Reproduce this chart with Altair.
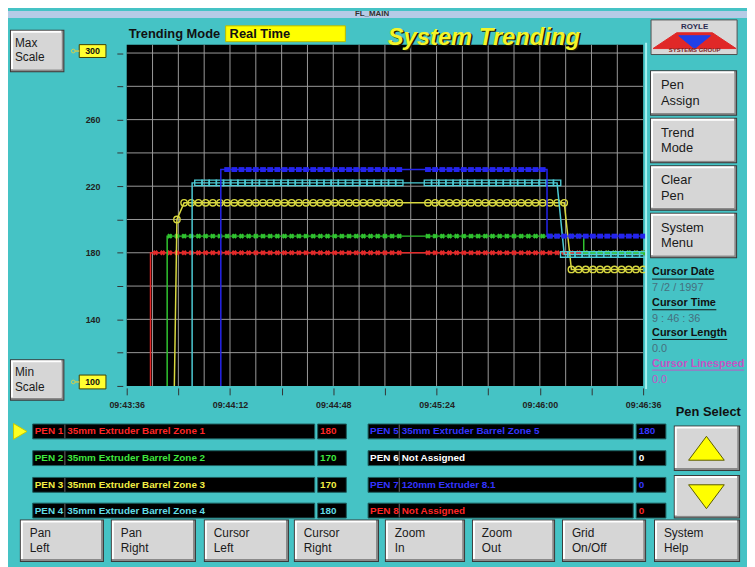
import altair as alt
import pandas as pd

FONT = "Liberation Sans"
W, H = 747, 559          # whole chart (page margin of 8px around it)

# ---------------------------------------------------------------- chart data
x_tick_labels = ["09:43:36", "09:44:12", "09:44:48", "09:45:24", "09:46:00", "09:46:36"]
x_tick_values = [0, 18, 36, 54, 72, 90, 108, 126, 144, 162, 180]      # seconds after 09:43:36
y_tick_values = [100, 120, 140, 160, 180, 200, 220, 240, 260, 280, 300]
y_label_values = [140, 180, 220, 260]
grid_t = [9, 18, 27, 36, 45, 54, 63, 72, 81, 90, 99, 108, 117, 126, 135, 144, 153, 162, 171]
grid_v = [120, 140, 160, 180, 200, 220, 240, 260, 280, 300]
scale_max_label = "300"
scale_min_label = "100"

trend_colors = ["#e42a2a", "#30c430", "#d8d840", "#4ccad4", "#2424ee"]

# trace vertices (time s, value)
line1_t = [8.3, 8.3, 180]
line1_v = [100, 180, 180]
line2_t = [14.1, 14.1, 159.3, 159.3, 180]
line2_v = [100, 190, 190, 180, 180]
line3_t = [16.6, 17.5, 20, 152.5, 155, 180]
line3_v = [100, 200, 210, 210, 170, 170]
line4_t = [22.8, 22.8, 150, 152.5, 180]
line4_v = [100, 222, 222, 179, 179]
line5_t = [32.8, 32.8, 146.5, 146.5, 180]
line5_v = [100, 230, 230, 190, 190]

# logged samples (markers); no samples between 95 s and 105 s
sample_t = [i * 2.5 for i in range(0, 39)] + [i * 2.5 for i in range(42, 73)]
mark1 = [None] * 4 + [180] * 35 + [180] * 31
mark2 = [None] * 6 + [190] * 33 + [190] * 22 + [180] * 9
mark3 = [None] * 7 + [200] + [210] * 31 + [210] * 20 + [170] * 11
mark4 = [None] * 10 + [222] * 29 + [222] * 19 + [179] * 12
mark5 = [None] * 14 + [230] * 25 + [230] * 17 + [190] * 14

pen_ids = ["PEN 1", "PEN 2", "PEN 3", "PEN 4", "PEN 5", "PEN 6", "PEN 7", "PEN 8"]
pen_names = ["35mm Extruder Barrel Zone 1", "35mm Extruder Barrel Zone 2",
             "35mm Extruder Barrel Zone 3", "35mm Extruder Barrel Zone 4",
             "35mm Extruder Barrel Zone 5", "Not Assigned",
             "120mm Extruder 8.1", "Not Assigned"]
pen_values = ["180", "170", "170", "180", "180", "0", "0", "0"]
pen_text_colors = ["#ff2626", "#3ee83e", "#f2ee44", "#62dce6", "#3434ff",
                   "#ffffff", "#3434ff", "#ff2626"]

bottom_buttons = [("Pan", "Left"), ("Pan", "Right"), ("Cursor", "Left"), ("Cursor", "Right"),
                  ("Zoom", "In"), ("Zoom", "Out"), ("Grid", "On/Off"), ("System", "Help")]
side_buttons = [("Pen", "Assign"), ("Trend", "Mode"), ("Clear", "Pen"), ("System", "Menu")]
scale_buttons = [("Max", "Scale"), ("Min", "Scale")]
cursor_headers = ["Cursor Date", "Cursor Time", "Cursor Length", "Cursor Linespeed"]
cursor_values = ["7  /2   / 1997", "9 : 46 : 36", "0.0", "0.0"]

# ---------------------------------------------------------------- layout (screen px)
TEAL = "#45c3c5"
FACE = "#d6d6d6"
PLOT_L, PLOT_R = 128, 650        # image x of t=0 and t=180
PX_S = (PLOT_R - PLOT_L) / 180.0
Y100, PX_V = 387, 1.6825         # image y of value 100, px per unit
PLOT_TOP = 305


def t_at(x):
    return (x - PLOT_L) / PX_S


def v_at(y):
    return 100 + (Y100 - y) / PX_V


xs = alt.Scale(domain=[t_at(8), t_at(8 + W)], nice=False, zero=False)
ys = alt.Scale(domain=[v_at(8 + H), v_at(8)], nice=False, zero=False)
sx = alt.Scale(domain=[8, 8 + W], range=[0, W], nice=False, zero=False)
sy = alt.Scale(domain=[8, 8 + H], range=[0, H], nice=False, zero=False)


def SX(f):
    return alt.X(f"{f}:Q", scale=sx, axis=None)


def SY(f):
    return alt.Y(f"{f}:Q", scale=sy, axis=None)


rects, rules, texts_b, texts_n, texts_c, pts = [], [], [], [], [], []


def rect(x0, x1, y0, y1, fill, stroke="transparent", sw=0):
    rects.append(dict(x0=x0, x1=x1, y0=y0, y1=y1, fill=fill, stroke=stroke, sw=sw))


def button(x0, y0, x1, y1):
    rect(x0, x1, y0, y1, "#3a3a3a")
    rect(x0 + 1, x1 - 1, y0 + 1, y1 - 1, "#8a8a8a")
    rect(x0 + 1, x1 - 3, y0 + 1, y1 - 3, "#ffffff")
    rect(x0 + 3, x1 - 3, y0 + 3, y1 - 3, FACE)


# top bar
rect(8, 755, 8, 15, "#b6cbe6")
texts_c.append(dict(x=376, y=11, text="FL_MAIN", color="#303030", size=8))

# header
texts_b.append(dict(x=130, y=31, text="Trending Mode", color="#111111", size=13))
rect(228, 349, 23, 39, "#ffff00", "#b8b800", 1)
texts_b.append(dict(x=232, y=31, text="Real Time", color="#111111", size=13))

# scale buttons and boxes
for (a, b), (y0, y1) in zip(scale_buttons, [(27, 70), (360, 402)]):
    button(10, y0, 65, y1)
    texts_n.append(dict(x=15, y=y0 + 13, text=a, color="#1a1a1a", size=12))
    texts_n.append(dict(x=15, y=y0 + 28, text=b, color="#1a1a1a", size=12))
for lab, (y0, y1) in zip([scale_max_label, scale_min_label], [(42, 55), (376, 390)]):
    rect(80, 107, y0, y1, "#ffff30", "#404000", 1)
    texts_c.append(dict(x=93.5, y=(y0 + y1) / 2, text=lab, color="#111111", size=9))
    rules.append(dict(x0=73, x1=80, y0=(y0 + y1) / 2, y1=(y0 + y1) / 2, color="#c8c850", w=1.5))
    pts.append(dict(x=74, y=(y0 + y1) / 2, shape="circle", size=14, fill=TEAL, stroke="#d0d050"))

# logo
rect(658, 745, 17, 52, "#d8d8d8", "#505050", 1)
texts_c.append(dict(x=702, y=24, text="ROYLE", color="#2a2a50", size=8))
texts_c.append(dict(x=702, y=47.5, text="SYSTEMS GROUP", color="#802020", size=6))
pts.append(dict(x=702, y=38, shape="M-1,0.19L-0.43,-0.19L0.43,-0.19L1,0.19Z",
                size=7056, fill="#e02828", stroke="#e02828"))
pts.append(dict(x=702, y=39, shape="M-1,-0.375L1,-0.375L0,0.44Z",
                size=1024, fill="#2040e8", stroke="#2040e8"))

# side buttons
for i, (a, b) in enumerate(side_buttons):
    top = 68 + 48 * i
    button(657, top, 745, top + 46)
    texts_n.append(dict(x=668, y=top + 15, text=a, color="#1a1a1a", size=13))
    texts_n.append(dict(x=668, y=top + 31, text=b, color="#1a1a1a", size=13))

# cursor info
for i, (hd, val) in enumerate(zip(cursor_headers, cursor_values)):
    y = 272 + 31 * i
    col = "#c454c4" if i == 3 else "#111111"
    vcol = "#c454c4" if i == 3 else "#46707e"
    texts_b.append(dict(x=659, y=y, text=hd, color=col, size=11))
    texts_n.append(dict(x=659, y=y + 16, text=val, color=vcol, size=11))
for (x1, y), col in zip([(722, 279), (724, 310), (735, 340), (752, 371)],
                        ["#111111", "#111111", "#111111", "#c454c4"]):
    rules.append(dict(x0=659, x1=x1, y0=y, y1=y, color=col, w=1))

# plot right frame
rules.append(dict(x0=653, x1=653, y0=40, y1=390, color="#a4f0f0", w=2))

# pen table
row_y = [433, 460, 487, 513]
for i in range(8):
    col, row = divmod(i, 4)
    yc = row_y[row]
    bx0, bx1, sep, vx0, vx1 = [(33, 318, 65.5, 321, 350), (372, 640, 403.5, 643, 673)][col]
    rect(bx0, bx1, yc - 7.5, yc + 7.5, "#000000", "#1c5c5c", 1)
    rect(vx0, vx1, yc - 7.5, yc + 7.5, "#000000", "#1c5c5c", 1)
    rules.append(dict(x0=sep, x1=sep, y0=yc - 7, y1=yc + 7, color="#6a6a6a", w=1))
    texts_b.append(dict(x=bx0 + 2, y=yc, text=pen_ids[i], color=pen_text_colors[i], size=10))
    texts_b.append(dict(x=sep + 2.5, y=yc, text=pen_names[i], color=pen_text_colors[i], size=10))
    texts_b.append(dict(x=vx0 + 2.5, y=yc, text=pen_values[i], color=pen_text_colors[i], size=10))
pts.append(dict(x=20, y=433, shape="M-0.8,-1L0.9,0L-0.8,1Z", size=256,
                fill="#ffff20", stroke="#c8c800"))

# pen select
texts_b.append(dict(x=683, y=413, text="Pen Select", color="#111111", size=13))
button(681, 427, 748, 473)
button(681, 477, 748, 521)
pts.append(dict(x=714, y=450, shape="M0,-0.67L1,0.67L-1,0.67Z", size=1300,
                fill="#ffff00", stroke="#5a5a00"))
pts.append(dict(x=714, y=499, shape="M-1,-0.67L1,-0.67L0,0.67Z", size=1300,
                fill="#ffff00", stroke="#5a5a00"))

# bottom buttons
bottom_x = [(20, 105), (112, 198), (206, 292), (297, 383), (389, 470), (477, 561), (568, 653), (661, 748)]
for (a, b), (x0, x1) in zip(bottom_buttons, bottom_x):
    button(x0, 522, x1, 565)
    texts_n.append(dict(x=x0 + 10, y=536, text=a, color="#1a1a1a", size=12))
    texts_n.append(dict(x=x0 + 10, y=551, text=b, color="#1a1a1a", size=12))

# ---------------------------------------------------------------- layers
layers = []

layers.append(alt.Chart(pd.DataFrame(rects)).mark_rect().encode(
    x=SX("x0"), x2="x1", y=SY("y0"), y2="y1",
    fill=alt.Fill("fill:N", scale=None),
    stroke=alt.Stroke("stroke:N", scale=None),
    strokeWidth=alt.StrokeWidth("sw:Q", scale=None)))

label_js = "[" + ",".join("'%s'" % s for s in x_tick_labels) + "]"
ylab_js = "[" + ",".join(str(v) for v in y_label_values) + "]"
x_axis = alt.Axis(values=x_tick_values, orient="bottom", offset=-(H - (389 - 8)),
                  labelExpr=f"datum.value % 36 === 0 ? {label_js}[datum.value / 36] : ''",
                  tickSize=7, tickColor="#333333", domain=False, grid=False,
                  labelPadding=6, labelFont=FONT, labelFontSize=9, labelFontWeight="bold",
                  labelColor="#222222", labelOverlap=False, labelFlush=False, title=None)
y_axis = alt.Axis(values=y_tick_values, orient="left", offset=-(124 - 8),
                  labelExpr=f"indexof({ylab_js}, datum.value) >= 0 ? datum.label : ''",
                  tickSize=6, tickColor="#333333", domain=False, grid=False,
                  labelPadding=17, labelFont=FONT, labelFontSize=9, labelFontWeight="bold",
                  labelColor="#222222", labelOverlap=False, labelFlush=False, title=None)

frame = pd.DataFrame({"t0": [0], "t1": [180], "v0": [100], "v1": [PLOT_TOP]})
layers.append(alt.Chart(frame).mark_rect(color="#000000").encode(
    x=alt.X("t0:Q", scale=xs, axis=x_axis), x2="t1",
    y=alt.Y("v0:Q", scale=ys, axis=y_axis), y2="v1"))

gv = pd.DataFrame({"t": grid_t, "v0": 100, "v1": PLOT_TOP})
layers.append(alt.Chart(gv).mark_rule(color="#9a9a9a", strokeWidth=1).encode(
    x=alt.X("t:Q", scale=xs, axis=None),
    y=alt.Y("v0:Q", scale=ys, axis=None), y2="v1"))
gh = pd.DataFrame({"v": grid_v, "t0": 0, "t1": 180})
layers.append(alt.Chart(gh).mark_rule(color="#9a9a9a", strokeWidth=1).encode(
    y=alt.Y("v:Q", scale=ys, axis=None),
    x=alt.X("t0:Q", scale=xs, axis=None), x2="t1"))

lines = [(line1_t, line1_v), (line2_t, line2_v), (line3_t, line3_v), (line4_t, line4_v), (line5_t, line5_v)]
marks = [mark1, mark2, mark3, mark4, mark5]
mark_styles = [
    dict(shape="cross", angle=45, filled=True, size=30),
    dict(shape="cross", angle=45, filled=True, size=30),
    dict(shape="circle", filled=False, size=42, strokeWidth=1.4),
    dict(shape="M-1,-0.75L1,-0.75L1,0.75L-1,0.75Z", filled=False, size=56, strokeWidth=1.4),
    dict(shape="M-1,-0.85L1,-0.85L1,0.85L-1,0.85Z", filled=True, size=34),
]
for (lt, lv), mk, col, st in zip(lines, marks, trend_colors, mark_styles):
    ld = pd.DataFrame({"t": lt, "v": lv, "i": range(len(lt))})
    layers.append(alt.Chart(ld).mark_line(color=col, strokeWidth=1.5).encode(
        x=alt.X("t:Q", scale=xs, axis=None),
        y=alt.Y("v:Q", scale=ys, axis=None),
        order="i:Q"))
    md = pd.DataFrame({"t": sample_t, "v": mk}).dropna()
    layers.append(alt.Chart(md).mark_point(color=col, opacity=1, **st).encode(
        x=alt.X("t:Q", scale=xs, axis=None),
        y=alt.Y("v:Q", scale=ys, axis=None)))

layers.append(alt.Chart(pd.DataFrame(rules)).mark_rule().encode(
    x=SX("x0"), x2="x1", y=SY("y0"), y2="y1",
    color=alt.Color("color:N", scale=None),
    strokeWidth=alt.StrokeWidth("w:Q", scale=None)))

layers.append(alt.Chart(pd.DataFrame(pts)).mark_point(filled=True, opacity=1, strokeWidth=1).encode(
    x=SX("x"), y=SY("y"),
    shape=alt.Shape("shape:N", scale=None),
    size=alt.Size("size:Q", scale=None),
    fill=alt.Fill("fill:N", scale=None),
    stroke=alt.Stroke("stroke:N", scale=None)))


def text_layer(rows, **kw):
    return alt.Chart(pd.DataFrame(rows)).mark_text(font=FONT, baseline="middle", **kw).encode(
        x=SX("x"), y=SY("y"), text="text:N",
        color=alt.Color("color:N", scale=None),
        size=alt.Size("size:Q", scale=None))


layers.append(text_layer(texts_b, align="left", fontWeight="bold"))
layers.append(text_layer(texts_n, align="left"))
layers.append(text_layer(texts_c, align="center", fontWeight="bold"))
title_rows = [dict(x=490.5, y=36.5, text="System Trending", color="#1a1a00", size=24),
              dict(x=489, y=35, text="System Trending", color="#f4f42a", size=24)]
layers.append(text_layer(title_rows, align="center", fontWeight="bold", fontStyle="italic"))

chart = alt.layer(*layers).resolve_scale(x="independent", y="independent").properties(
    width=W, height=H, padding=0, autosize="none", background=TEAL
).configure_view(stroke=None)

chart.save("out.html", embed_options={"renderer": "svg", "actions": False})
